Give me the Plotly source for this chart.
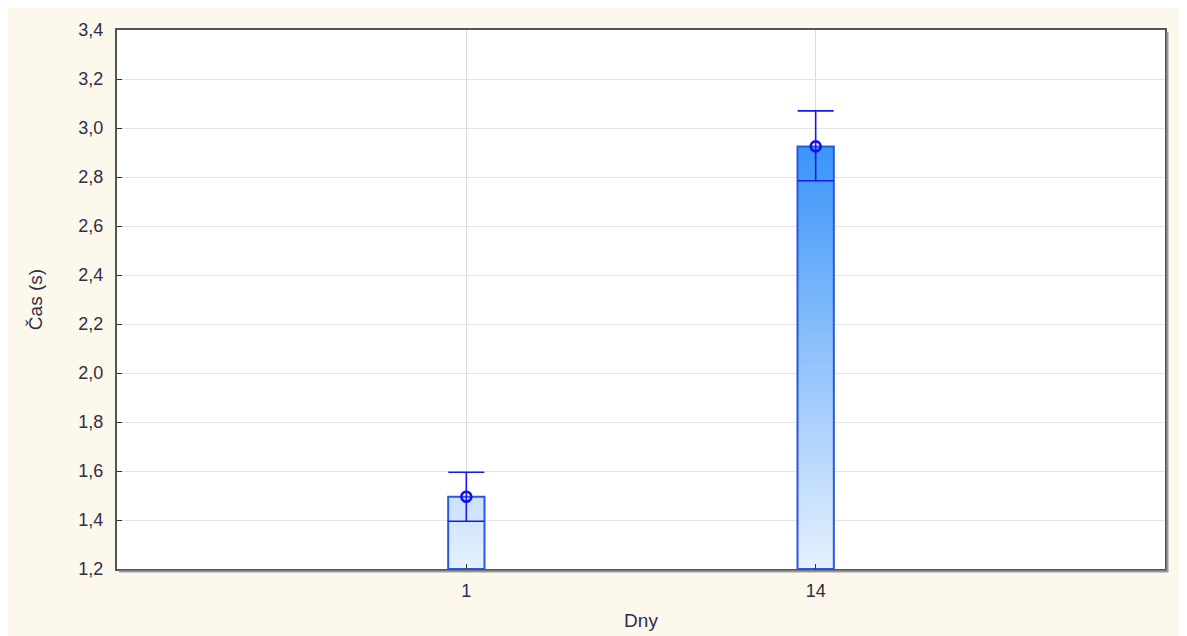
import plotly.graph_objects as go

# ---- data ----
categories = ["1", "14"]
means = [1.495, 2.925]
err_plus = [0.10, 0.145]
err_minus = [0.10, 0.14]
y_ticks = [1.2, 1.4, 1.6, 1.8, 2.0, 2.2, 2.4, 2.6, 2.8, 3.0, 3.2, 3.4]

W, H = 1187, 636
ML, MR, MT, MB = 109, 30, 22, 75
PW, PH = W - ML - MR, H - MT - MB

BASE = 1.2
HALF = 0.052
xpos = list(range(1, len(categories) + 1))

fig = go.Figure()

# bars as gradient-filled rectangles built from the data
for xi, m in zip(xpos, means):
    fig.add_trace(go.Scatter(
        x=[xi - HALF, xi + HALF, xi + HALF, xi - HALF, xi - HALF],
        y=[BASE, BASE, m, m, BASE],
        mode="lines", fill="toself",
        line=dict(color="#2a57e0", width=2),
        fillgradient=dict(type="vertical",
                          colorscale=[[0, "#e6f1fe"], [1, "#3a94f8"]],
                          start=BASE, stop=max(means)),
        hoverinfo="skip", showlegend=False,
    ))

fig.add_trace(go.Scatter(
    x=xpos, y=means, mode="markers",
    marker=dict(symbol="circle-open", size=10, color="#1010f0",
                line=dict(width=2.6, color="#1010f0")),
    error_y=dict(type="data", array=err_plus, arrayminus=err_minus,
                 color="#1818ee", thickness=1.6, width=18),
    showlegend=False,
))

# frame shadow
fig.add_shape(type="line", xref="paper", yref="paper", layer="above",
              x0=1 + 2.5 / PW, x1=1 + 2.5 / PW, y0=-2.5 / PH, y1=1 - 2 / PH,
              line=dict(color="#9a9a9a", width=2))
fig.add_shape(type="line", xref="paper", yref="paper", layer="above",
              x0=2 / PW, x1=1 + 3.5 / PW, y0=-2.5 / PH, y1=-2.5 / PH,
              line=dict(color="#9a9a9a", width=2))

FONT = "Liberation Sans, Arial"
tick_font = dict(family=FONT, size=18, color="#2e2e48")
title_font = dict(family=FONT, size=19, color="#2e2e48")

fig.update_layout(
    width=W, height=H,
    margin=dict(l=ML, r=MR, t=MT, b=MB),
    paper_bgcolor="#fdf8ec", plot_bgcolor="white",
    showlegend=False,
    xaxis=dict(
        range=[0, len(categories) + 1],
        tickmode="array", tickvals=xpos, ticktext=categories,
        showgrid=True, gridcolor="#dadada", gridwidth=1,
        zeroline=False,
        showline=True, mirror=True, linecolor="#555555", linewidth=2,
        ticks="inside", ticklen=5, tickcolor="#333333",
        tickfont=tick_font, ticklabelstandoff=4,
        title=dict(text="Dny", font=title_font, standoff=14),
    ),
    yaxis=dict(
        range=[1.2, 3.4],
        tickmode="array", tickvals=y_ticks,
        ticktext=[f"{v:.1f}".replace(".", ",") for v in y_ticks],
        showgrid=True, gridcolor="#e4e4e4", gridwidth=1,
        zeroline=False,
        showline=True, mirror=True, linecolor="#555555", linewidth=2,
        ticks="inside", ticklen=5, tickcolor="#333333",
        tickfont=tick_font, ticklabelstandoff=8,
        title=dict(text="Čas (s)", font=title_font, standoff=31),
    ),
)

fig.write_html("out.html")
